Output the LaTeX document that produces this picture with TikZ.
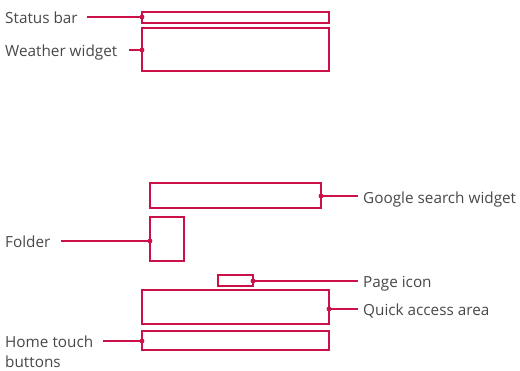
\documentclass[tikz,border=0pt]{standalone}
\usepackage{fontspec}
\setmainfont{Open Sans}
\definecolor{lgred}{RGB}{204,16,72}
\definecolor{txt}{RGB}{72,72,72}
\begin{document}
\begin{tikzpicture}[x=1pt,y=-1pt,
  box/.style={draw=lgred,line width=1.3pt},
  lead/.style={draw=lgred,line width=1.1pt},
  dotc/.style={fill=lgred},
  lbl/.style={text=txt,font=\fontsize{15.3}{20}\selectfont,inner sep=0pt,anchor=base west}]
\useasboundingbox (0,0) rectangle (520,370);
% boxes
\draw[box] (142,12) rectangle (329,23);
\draw[box] (142,28) rectangle (329,71);
\draw[box] (150,183) rectangle (321,208);
\draw[box] (150,217) rectangle (184,261);
\draw[box] (218,275) rectangle (253,286);
\draw[box] (142,290) rectangle (329,324);
\draw[box] (142,331) rectangle (329,350);
% anchor points
\coordinate (pS) at (142,17);
\coordinate (pW) at (142,50);
\coordinate (pG) at (321,196);
\coordinate (pF) at (150,241);
\coordinate (pP) at (253,281);
\coordinate (pQ) at (329,309);
\coordinate (pH) at (142,341);
\coordinate (eS) at (87,17);
\coordinate (eW) at (129,50);
\coordinate (eG) at (358,196);
\coordinate (eF) at (61,241);
\coordinate (eP) at (358,281);
\coordinate (eQ) at (358,309);
\coordinate (eH) at (103,341);
% labels
\node[lbl] (tS) at (5,23) {Status bar};
\node[lbl] (tW) at (5,56.5) {Weather widget};
\node[lbl] (tG) at (363,203) {Google search widget};
\node[lbl] (tF) at (5,247.5) {Folder};
\node[lbl] (tP) at (363,287.5) {Page icon};
\node[lbl] (tQ) at (363,315.5) {Quick access area};
\node[lbl] (tH) at (5,347) {Home touch};
\node[lbl] (tH2) at (5,367) {buttons};
% leaders
\draw[lead] (eS) -- (pS);
\draw[lead] (eW) -- (pW);
\draw[lead] (pG) -- (eG);
\draw[lead] (eF) -- (pF);
\draw[lead] (pP) -- (eP);
\draw[lead] (pQ) -- (eQ);
\draw[lead] (eH) -- (pH);
\foreach \p in {pS,pW,pG,pF,pP,pQ,pH} \fill[dotc] (\p) circle (2.4pt);
\end{tikzpicture}
\end{document}
